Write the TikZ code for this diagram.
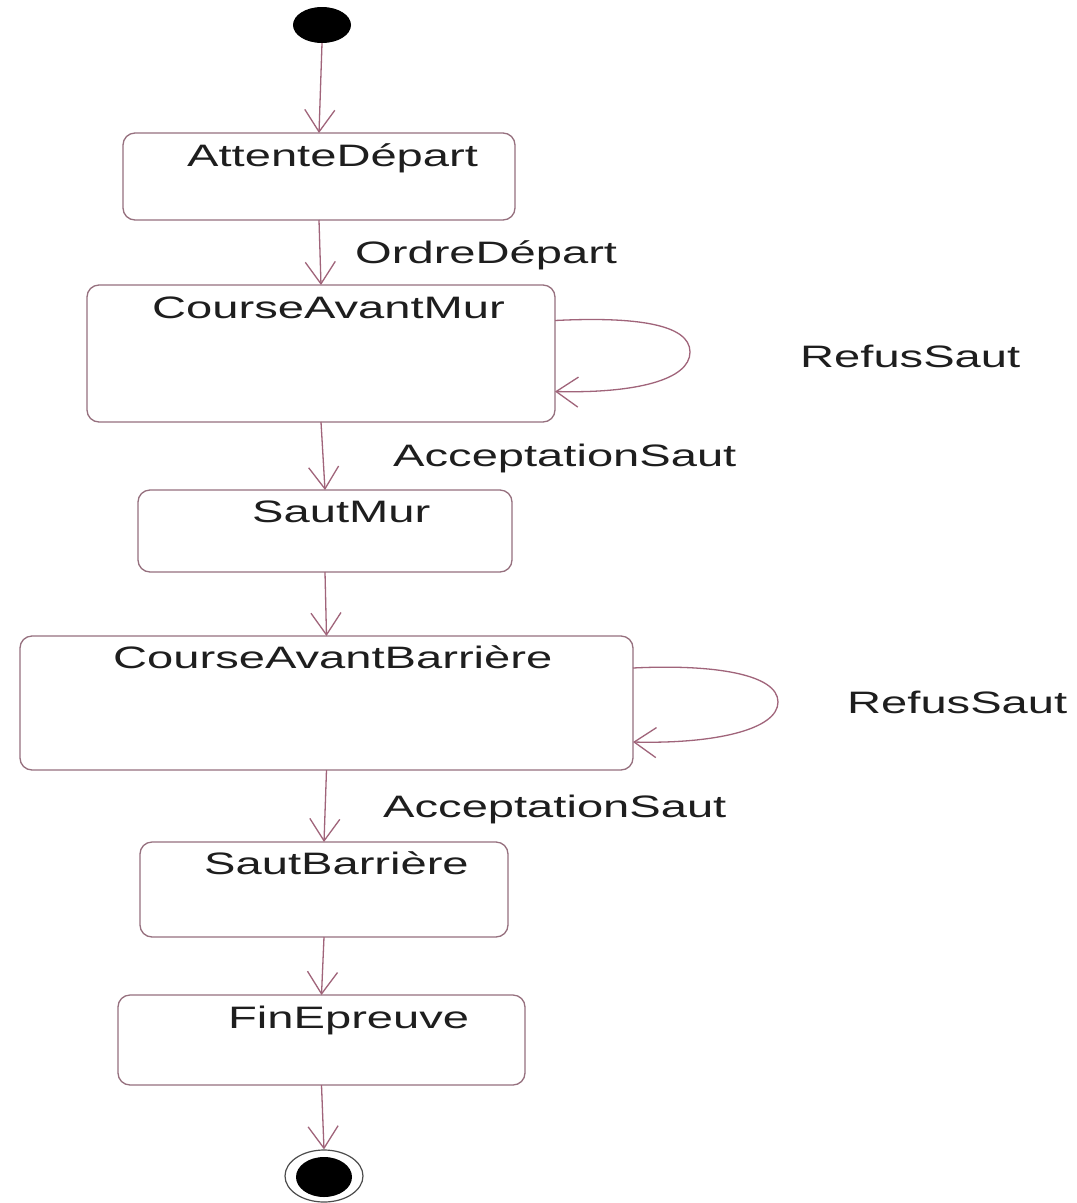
\documentclass[tikz,border=0pt]{standalone}
\usepackage{fontspec}
\setmainfont{Liberation Sans}[FakeStretch=1.52]
\usetikzlibrary{arrows.meta,shapes.geometric}
\definecolor{linec}{RGB}{160,100,122}
\definecolor{boxc}{RGB}{150,112,126}
\definecolor{txtc}{RGB}{30,30,30}
\begin{document}
\begin{tikzpicture}[x=1pt,y=-1pt,
  box/.style={draw=boxc,line width=1.3pt,rounded corners=12pt,inner sep=0pt,outer sep=0pt},
  lbl/.style={anchor=base west,inner sep=0pt,text=txtc,font=\fontsize{31}{31}\selectfont},
  arr/.style={draw=linec,line width=1.3pt,-{Straight Barb[length=22pt,width=30pt,line width=1.3pt]}}]
\useasboundingbox (0,0) rectangle (1077,1203);
\fill[white] (0,0) rectangle (1077,1203);
% states
\node[ellipse,fill=black,minimum width=58pt,minimum height=36pt,inner sep=0pt] (init) at (322,25) {};
\node[box,minimum width=392pt,minimum height=87pt] (ad) at (319,176.5) {};
\node[box,minimum width=468pt,minimum height=137pt] (cam) at (321,353.5) {};
\node[box,minimum width=374pt,minimum height=82pt] (sm) at (325,531) {};
\node[box,minimum width=613pt,minimum height=134pt] (cab) at (326.5,703) {};
\node[box,minimum width=368pt,minimum height=95pt] (sb) at (324,889.5) {};
\node[box,minimum width=407pt,minimum height=90pt] (fe) at (321.5,1040) {};
\node[ellipse,draw=black!70,line width=1.2pt,minimum width=78pt,minimum height=52pt,inner sep=0pt] (fin) at (324,1176) {};
\node[ellipse,fill=black,minimum width=56pt,minimum height=40pt,inner sep=0pt] (finin) at (324,1177) {};
% state names
\node[lbl] (tad) at (187,166) {AttenteDépart};
\node[lbl] (tcam) at (152,318) {CourseAvantMur};
\node[lbl] (tsm) at (252,522) {SautMur};
\node[lbl] (tcab) at (113,668) {CourseAvantBarrière};
\node[lbl] (tsb) at (204,874) {SautBarrière};
\node[lbl] (tfe) at (228,1028) {FinEpreuve};
% transition labels
\node[lbl] (lod) at (355,263) {OrdreDépart};
\node[lbl] (lrs1) at (800,367) {RefusSaut};
\node[lbl] (las1) at (393,466) {AcceptationSaut};
\node[lbl] (las2) at (383,817) {AcceptationSaut};
\node[lbl] (lrs2) at (847,713) {RefusSaut};
% transitions
\draw[arr] (init.south) -- (ad.north);
\draw[arr] (ad.south) -- (cam.north);
\draw[arr] (cam.south) -- (sm.north);
\draw[arr] (sm.south) -- (cab.north);
\draw[arr] (cab.south) -- (sb.north);
\draw[arr] (sb.south) -- (fe.north);
\draw[arr] (fe.south) -- (fin.north);
% self loops
\coordinate (l1) at (690,352);
\coordinate (l2) at (778,702);
\draw[arr] ([yshift=33pt]cam.east) .. controls +(80,-4) and +(0,-28) .. (l1)
  .. controls +(0,28) and +(80,2) .. ([yshift=-38pt]cam.east);
\draw[arr] ([yshift=35pt]cab.east) .. controls +(80,-4) and +(0,-28) .. (l2)
  .. controls +(0,28) and +(80,2) .. ([yshift=-39pt]cab.east);
\end{tikzpicture}
\end{document}
